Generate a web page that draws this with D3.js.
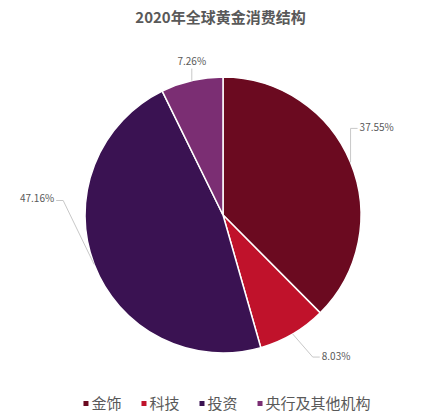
<!DOCTYPE html>
<html>
<head>
<meta charset="utf-8">
<script src="https://cdn.jsdelivr.net/npm/d3@7"></script>
<style>
  body { margin: 0; background: #fff; }
  text { font-family: "Noto Sans CJK SC", "DejaVu Sans", sans-serif; }
</style>
</head>
<body>
<svg width="441" height="417"></svg>
<script>
const width = 441, height = 417;

// data
const categories = ["金饰", "科技", "投资", "央行及其他机构"];
const shares = [37.55, 8.03, 47.16, 7.26];
const colors = ["#6b0a20", "#c0122b", "#3a1252", "#7b2e73"];

// leader line layout per slice: elbow offset from the slice edge, then label side
const leaderBend = [[0, -34], [20, 23], [-31, -64], [0, -12]];
const leaderSide = ["right", "right", "left", "up"];

const svg = d3.select("svg")
    .attr("width", width)
    .attr("height", height);

svg.append("text")
    .attr("x", width / 2)
    .attr("y", 23)
    .attr("text-anchor", "middle")
    .attr("font-size", "15px")
    .attr("font-weight", "bold")
    .attr("fill", "#595959")
    .text("2020年全球黄金消费结构");

const cx = 223, cy = 215, radius = 138;

const pieData = categories.map((c, i) => ({ name: c, value: shares[i], color: colors[i] }));

const pie = d3.pie()
    .sort(null)
    .value(d => d.value);

const arc = d3.arc()
    .innerRadius(0)
    .outerRadius(radius);

const edge = d3.arc()
    .innerRadius(radius)
    .outerRadius(radius);

const g = svg.append("g")
    .attr("transform", `translate(${cx}, ${cy})`);

const slices = pie(pieData);

g.selectAll(".slice")
    .data(slices)
    .enter().append("path")
    .attr("class", "slice")
    .attr("d", arc)
    .attr("fill", d => d.data.color)
    .attr("stroke", "#fff")
    .attr("stroke-width", 1.5);

// leader lines and labels
slices.forEach((d, i) => {
    const [x0, y0] = edge.centroid(d);
    const x1 = x0 + leaderBend[i][0], y1 = y0 + leaderBend[i][1];
    let pts = [[x0, y0], [x1, y1]];
    let tx, ty, anchor;
    if (leaderSide[i] === "right") {
        pts.push([x1 + 7, y1]);
        tx = x1 + 9; ty = y1 - 1; anchor = "start";
    } else if (leaderSide[i] === "left") {
        pts.push([x1 - 7, y1]);
        tx = x1 - 9; ty = y1 - 2; anchor = "end";
    } else {
        tx = x1; ty = y1 - 7; anchor = "middle";
    }
    g.append("path")
        .attr("d", d3.line()(pts))
        .attr("fill", "none")
        .attr("stroke", "#c8c8c8")
        .attr("stroke-width", 1);
    g.append("text")
        .attr("x", tx)
        .attr("y", ty)
        .attr("dy", "0.35em")
        .attr("text-anchor", anchor)
        .attr("font-size", "10px")
        .attr("fill", "#595959")
        .text(d.data.value.toFixed(2) + "%");
});

// legend
const legend = svg.append("g");
const gap = 20;
let lx = 0;
pieData.forEach((d, i) => {
    const item = legend.append("g");
    item.append("rect")
        .attr("x", 0)
        .attr("y", -3)
        .attr("width", 5)
        .attr("height", 5)
        .attr("fill", d.color);
    const t = item.append("text")
        .attr("x", 8)
        .attr("y", 0)
        .attr("dy", "0.35em")
        .attr("font-size", "15px")
        .attr("fill", "#595959")
        .text(d.name);
    const w = 8 + t.node().getComputedTextLength();
    item.attr("transform", `translate(${lx}, 0)`);
    lx += w + gap;
});
const totalW = lx - gap;
legend.attr("transform", `translate(${227 - totalW / 2}, 404)`);
</script>
</body>
</html>
